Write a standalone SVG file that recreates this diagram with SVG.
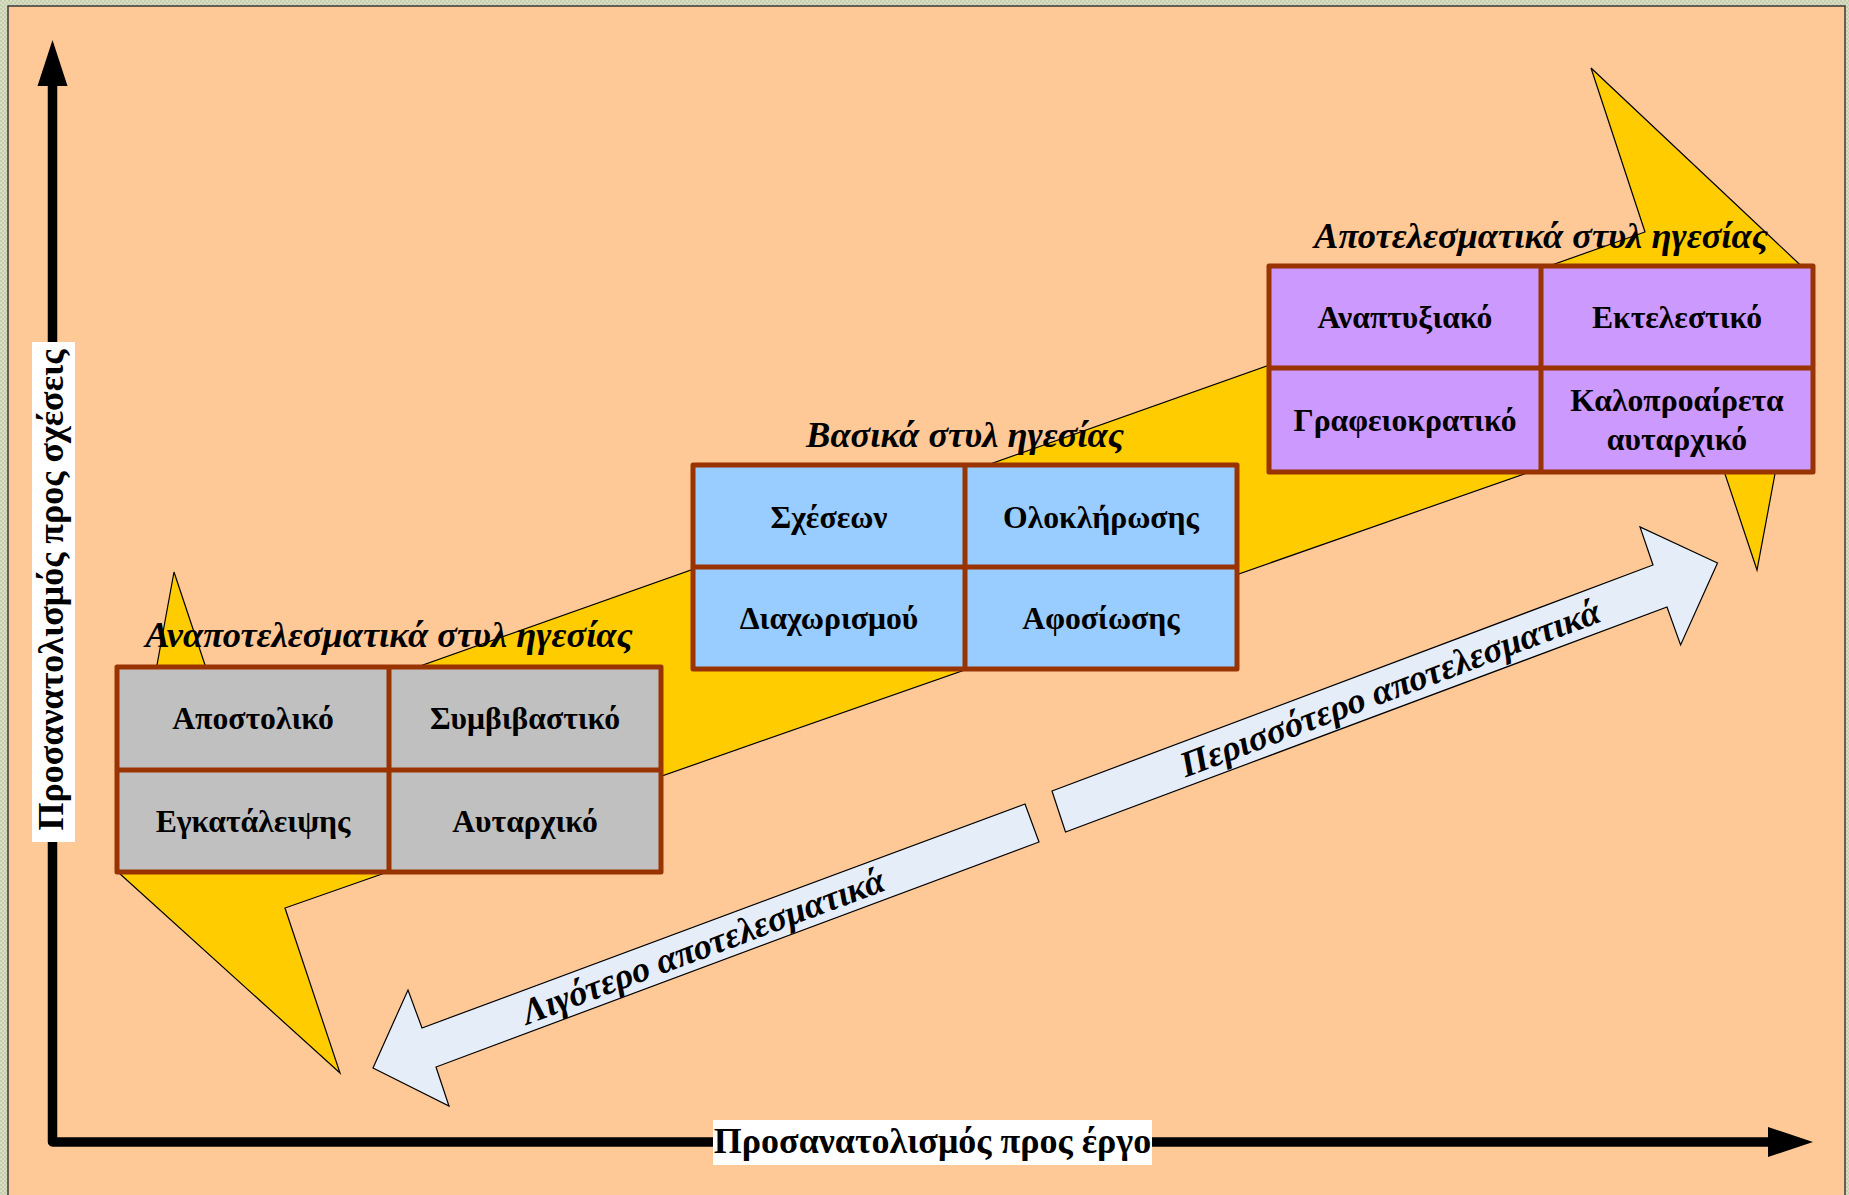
<svg xmlns="http://www.w3.org/2000/svg" width="1849" height="1195" viewBox="0 0 1849 1195">
<defs>
<pattern id="frame" width="4" height="4" patternUnits="userSpaceOnUse">
<rect width="4" height="4" fill="#d9dfc6"/>
<rect width="2" height="2" fill="#c5cdaa"/>
<rect x="2" y="2" width="2" height="2" fill="#c5cdaa"/>
</pattern>
<style>
.cell{stroke:#993300;stroke-width:5;stroke-linejoin:round}
.grey{fill:#c0c0c0}.blue{fill:#99ccff}.purple{fill:#cc99ff}
.div{stroke:#993300;stroke-width:5;fill:none}
.ct{font-family:"Liberation Serif","Times New Roman",serif;font-weight:bold;font-size:31.7px;text-anchor:middle;fill:#000}
.tt{font-family:"Liberation Serif","Times New Roman",serif;font-weight:bold;font-style:italic;font-size:36.5px;text-anchor:middle;fill:#000}
.at{font-family:"Liberation Serif","Times New Roman",serif;font-weight:bold;font-style:italic;font-size:36px;text-anchor:middle;fill:#000}
.ax{font-family:"Liberation Serif","Times New Roman",serif;font-weight:bold;font-size:36px;text-anchor:middle;fill:#000}
.arr{fill:#e5edf9;stroke:#000;stroke-width:1.2;stroke-linejoin:miter}
</style>
</defs>
<g id="background">
<rect x="0" y="0" width="1849" height="1195" fill="url(#frame)"/>
<rect x="8" y="6" width="1837" height="1200" fill="#ffc997" stroke="#3a3a3a" stroke-width="1.5"/>
</g>
<g id="band">
<polygon points="119,873 174,572 228,734 1645,232 1591,68 1812,276 1757,570 1704,411 285,908 340,1073" fill="#ffcc00" stroke="#000" stroke-width="1.2" stroke-linejoin="miter"/>
</g>
<g id="table-ineffective">
<rect class="cell grey" x="117" y="667" width="544" height="205"/>
<path class="div" d="M389,667V872M117,770H661"/>
<text class="tt" x="389" y="647">Αναποτελεσματικά στυλ ηγεσίας</text>
<text class="ct" x="253" y="729">Αποστολικό</text>
<text class="ct" x="525" y="729">Συμβιβαστικό</text>
<text class="ct" x="253" y="832">Εγκατάλειψης</text>
<text class="ct" x="525" y="832">Αυταρχικό</text>
</g>
<g id="table-basic">
<rect class="cell blue" x="693" y="465" width="544" height="204"/>
<path class="div" d="M965,465V669M693,567H1237"/>
<text class="tt" x="965" y="447">Βασικά στυλ ηγεσίας</text>
<text class="ct" x="829" y="528">Σχέσεων</text>
<text class="ct" x="1101" y="528">Ολοκλήρωσης</text>
<text class="ct" x="829" y="629">Διαχωρισμού</text>
<text class="ct" x="1101" y="629">Αφοσίωσης</text>
</g>
<g id="table-effective">
<rect class="cell purple" x="1269" y="266" width="544" height="206"/>
<path class="div" d="M1541,266V472M1269,368H1813"/>
<text class="tt" x="1541" y="248">Αποτελεσματικά στυλ ηγεσίας</text>
<text class="ct" x="1405" y="328">Αναπτυξιακό</text>
<text class="ct" x="1677" y="328">Εκτελεστικό</text>
<text class="ct" x="1405" y="431">Γραφειοκρατικό</text>
<text class="ct" x="1677" y="411">Καλοπροαίρετα</text>
<text class="ct" x="1677" y="450">αυταρχικό</text>
</g>
<g id="connectors">
<polygon class="arr" points="1025,804 422,1028 408,990 373,1068 449,1106 436,1067 1039,842"/>
<polygon class="arr" points="1052,791 1653,565 1640,527 1717.5,563 1680.6,645 1667,607 1065.5,832"/>
<path d="M52.5,80V1142H1775" fill="none" stroke="#000" stroke-width="9.5" stroke-linejoin="round"/>
<polygon points="52.5,40 67.5,86 37.5,86" fill="#000"/>
<polygon points="1813,1142 1768,1127 1768,1157" fill="#000"/>
</g>
<g id="labels">
<text class="at" transform="translate(703,946) rotate(-20.56)" x="0" y="12">Λιγότερο αποτελεσματικά</text>
<text class="at" transform="translate(1390,688) rotate(-20.56)" x="0" y="12">Περισσότερο αποτελεσματικά</text>
<rect x="32" y="342" width="43" height="500" fill="#fff"/>
<text class="ax" transform="translate(63,590) rotate(-90)" x="0" y="0">Προσανατολισμός προς σχέσεις</text>
<rect x="713" y="1120" width="439" height="45" fill="#fff"/>
<text class="ax" x="932.5" y="1153">Προσανατολισμός προς έργο</text>
</g>
</svg>
